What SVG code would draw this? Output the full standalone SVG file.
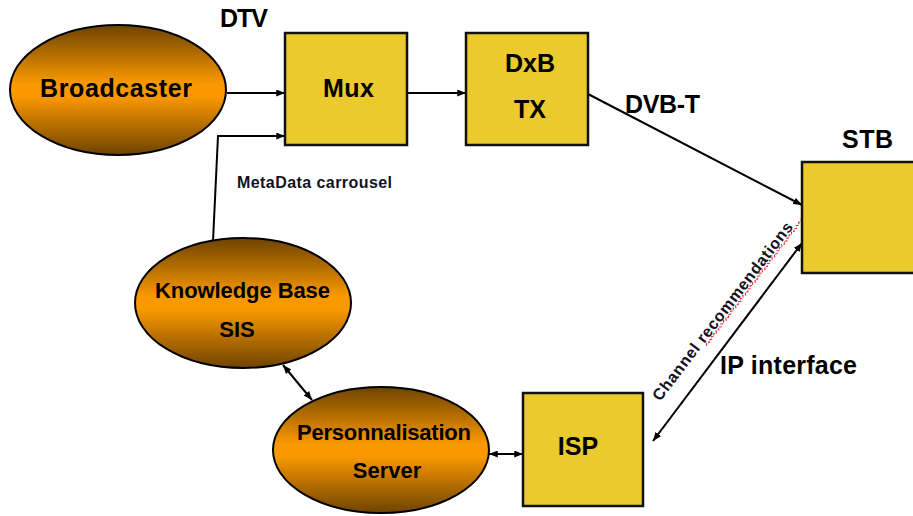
<svg xmlns="http://www.w3.org/2000/svg" width="913" height="516" viewBox="0 0 913 516">
  <defs>
    <linearGradient id="orb" x1="0" y1="0" x2="0" y2="1">
      <stop offset="0" stop-color="#6E4300"/>
      <stop offset="0.45" stop-color="#FA9800"/>
      <stop offset="0.55" stop-color="#FA9800"/>
      <stop offset="1" stop-color="#6E4300"/>
    </linearGradient>
    <marker id="head" viewBox="0 0 10 8" refX="10" refY="4" markerWidth="9" markerHeight="7" markerUnits="userSpaceOnUse" orient="auto-start-reverse">
      <path d="M0,0 L10,4 L0,8 Z" fill="#000"/>
    </marker>
    <style>
      .box { fill: #EACA2D; stroke: #111; stroke-width: 2.5; }
      .orb { fill: url(#orb); stroke: #000; stroke-width: 2; }
      .lbl { font-family: "Liberation Sans", Arial, sans-serif; font-weight: bold; fill: #000; }
      .big { font-size: 25px; }
      .mid { font-size: 22px; }
      .small { font-size: 16px; fill: #111122; }
      .wire { fill: none; stroke: #000; stroke-width: 2; }
    </style>
  </defs>

  <rect width="913" height="516" fill="#fff"/>

  <!-- connectors -->
  <g id="connectors">
    <line class="wire" x1="227" y1="93" x2="285" y2="93" marker-end="url(#head)"/>
    <polyline class="wire" points="213,241 218,136 285,136" marker-end="url(#head)"/>
    <line class="wire" x1="407" y1="93" x2="466" y2="93" marker-end="url(#head)"/>
    <line class="wire" x1="588" y1="94" x2="802" y2="205" marker-end="url(#head)"/>
    <line class="wire" x1="653" y1="441" x2="802" y2="243" marker-start="url(#head)" marker-end="url(#head)"/>
    <line class="wire" x1="283" y1="365" x2="312" y2="400" marker-start="url(#head)" marker-end="url(#head)"/>
    <line class="wire" x1="489" y1="454" x2="523" y2="454" marker-start="url(#head)" marker-end="url(#head)"/>
  </g>

  <!-- edge labels -->
  <text class="lbl big" x="220" y="27" font-size="23" textLength="48">DTV</text>
  <text class="lbl big" x="625" y="113" textLength="75">DVB-T</text>
  <text class="lbl small" x="237" y="188" textLength="155">MetaData carrousel</text>
  <text class="lbl big" x="720" y="374" textLength="137">IP interface</text>
  <g transform="translate(660,402) rotate(-52.6)">
    <text class="lbl small" x="0" y="0" font-size="17.5" textLength="220">Channel recommendations</text>
    <path d="M73,3 l2,-2 l2,2 l2,-2 l2,2 l2,-2 l2,2 l2,-2 l2,2 l2,-2 l2,2 l2,-2 l2,2 l2,-2 l2,2 l2,-2 l2,2 l2,-2 l2,2 l2,-2 l2,2 l2,-2 l2,2 l2,-2 l2,2 l2,-2 l2,2 l2,-2 l2,2 l2,-2 l2,2 l2,-2 l2,2 l2,-2 l2,2 l2,-2 l2,2 l2,-2 l2,2 l2,-2 l2,2 l2,-2 l2,2 l2,-2 l2,2 l2,-2 l2,2 l2,-2 l2,2 l2,-2 l2,2 l2,-2 l2,2 l2,-2 l2,2 l2,-2 l2,2 l2,-2 l2,2 l2,-2 l2,2 l2,-2 l2,2 l2,-2 l2,2 l2,-2 l2,2 l2,-2 l2,2 l2,-2 l2,2 l2,-2 l2,2 l2,-2 l2,2 l2,-2 l2,2 l2,-2 l2,2 l2,-2 l2,2 l2,-2 l2,2" fill="none" stroke="#E02020" stroke-width="1" stroke-dasharray="3,1.5"/>
  </g>

  <!-- nodes -->
  <g id="broadcaster">
    <ellipse class="orb" cx="118" cy="90" rx="108" ry="65"/>
    <text class="lbl big" x="40" y="97" textLength="152">Broadcaster</text>
  </g>
  <g id="mux">
    <rect class="box" x="285" y="33" width="122" height="112"/>
    <text class="lbl big" x="323" y="97" textLength="51">Mux</text>
  </g>
  <g id="dxb-tx">
    <rect class="box" x="466" y="33" width="122" height="112"/>
    <text class="lbl big" x="505" y="72" textLength="50">DxB</text>
    <text class="lbl big" x="530" y="118" text-anchor="middle">TX</text>
  </g>
  <g id="stb">
    <rect class="box" x="802" y="162" width="120" height="111"/>
    <text class="lbl big" x="842" y="148" font-size="23" textLength="51">STB</text>
  </g>
  <g id="knowledge-base">
    <ellipse class="orb" cx="243" cy="303" rx="108" ry="65"/>
    <text class="lbl mid" x="155" y="298" textLength="175">Knowledge Base</text>
    <text class="lbl mid" x="237" y="337" text-anchor="middle">SIS</text>
  </g>
  <g id="personnalisation-server">
    <ellipse class="orb" cx="381" cy="450" rx="108" ry="63"/>
    <text class="lbl mid" x="297" y="440" textLength="174">Personnalisation</text>
    <text class="lbl mid" x="387" y="478" text-anchor="middle">Server</text>
  </g>
  <g id="isp">
    <rect class="box" x="523" y="393" width="120" height="113"/>
    <text class="lbl big" x="578" y="455" text-anchor="middle">ISP</text>
  </g>
</svg>
